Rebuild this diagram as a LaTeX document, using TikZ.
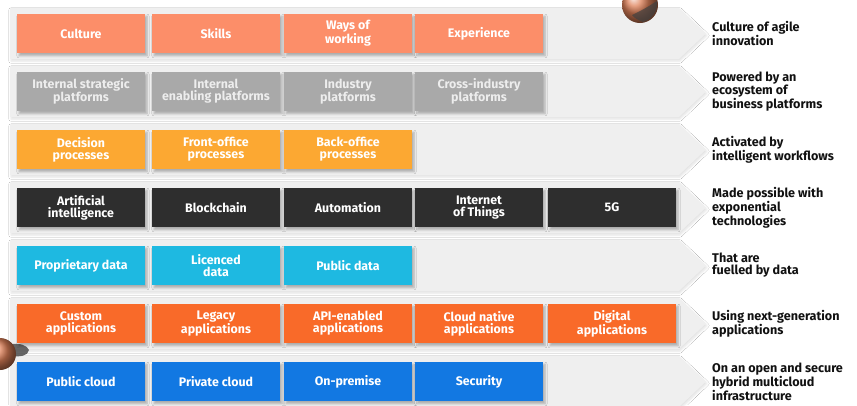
\documentclass[tikz,border=0pt]{standalone}
\usepackage{fontspec}
\setmainfont{Fira Sans}
\usetikzlibrary{shadows.blur}

\definecolor{bandgray}{HTML}{EFEFEF}
\definecolor{cSalmon}{HTML}{FC8E69}
\definecolor{cGray}{HTML}{A9A9A9}
\definecolor{cAmber}{HTML}{FCA832}
\definecolor{cCoal}{HTML}{2E2E2E}
\definecolor{cCyan}{HTML}{1EB9E1}
\definecolor{cOrange}{HTML}{F96A29}
\definecolor{cBlue}{HTML}{1278E2}
\definecolor{labeltext}{HTML}{111111}
\definecolor{copper}{HTML}{DE8058}

\tikzset{
  band/.style={fill=bandgray, draw=none,
    blur shadow={shadow xshift=1pt, shadow yshift=-2pt, shadow blur steps=6, shadow opacity=12}},
  tile/.style={draw=none, minimum width=128pt, minimum height=39.5pt, inner sep=0pt,
    text=white, align=center, font=\fontsize{12.4}{12}\selectfont\bfseries,
    blur shadow={shadow xshift=2pt, shadow yshift=-2.5pt, shadow blur steps=6, shadow opacity=28}},
  rowlabel/.style={anchor=west, align=left, inner sep=0pt, text=labeltext,
    font=\fontsize{12.6}{12}\selectfont\bfseries},
}

\begin{document}
\begin{tikzpicture}[x=1pt, y=-1pt]
\useasboundingbox (0,0) rectangle (857,405);
\fill[white] (0,0) rectangle (857,405);

% arrow-shaped background bands, one per layer
\foreach \cy in {33.5, 91.5, 149.5, 207.5, 265.5, 323.5, 381.5} {
  \path[band] (10,\cy-25.5) -- (679,\cy-25.5) -- (706,\cy) -- (679,\cy+25.5)
              -- (10,\cy+25.5) -- cycle;
}

% small copper sphere at the lower left edge with its dark stem
\fill[black!70, opacity=0.85] (10,344) .. controls (20,343) and (27,345) .. (29,350)
  .. controls (28,356) and (20,357) .. (12,356) -- cycle;
\shade[ball color=copper] (0,354) circle (16);

% row 1
\node[tile, fill=cSalmon] (r1c1) at (81,33.5) {Culture};
\node[tile, fill=cSalmon] (r1c2) at (216,33.5) {Skills};
\node[tile, fill=cSalmon] (r1c3) at (348,33.5) {Ways of\\working};
\node[tile, fill=cSalmon] (r1c4) at (479,33.5) {Experience};
\node[rowlabel] (l1) at (712,33.5) {Culture of agile\\innovation};

% row 2
\node[tile, fill=cGray, text=white!93!black] (r2c1) at (81,91.5) {Internal strategic\\platforms};
\node[tile, fill=cGray, text=white!93!black] (r2c2) at (216,91.5) {Internal\\enabling platforms};
\node[tile, fill=cGray, text=white!93!black] (r2c3) at (348,91.5) {Industry\\platforms};
\node[tile, fill=cGray, text=white!93!black] (r2c4) at (479,91.5) {Cross-industry\\platforms};
\node[rowlabel] (l2) at (712,91.5) {Powered by an\\ecosystem of\\business platforms};

% row 3
\node[tile, fill=cAmber] (r3c1) at (81,149.5) {Decision\\processes};
\node[tile, fill=cAmber] (r3c2) at (216,149.5) {Front-office\\processes};
\node[tile, fill=cAmber] (r3c3) at (348,149.5) {Back-office\\processes};
\node[rowlabel] (l3) at (712,149.5) {Activated by\\intelligent workflows};

% row 4
\node[tile, fill=cCoal] (r4c1) at (81,207.5) {Artificial\\intelligence};
\node[tile, fill=cCoal] (r4c2) at (216,207.5) {Blockchain};
\node[tile, fill=cCoal] (r4c3) at (348,207.5) {Automation};
\node[tile, fill=cCoal] (r4c4) at (479,207.5) {Internet\\of Things};
\node[tile, fill=cCoal] (r4c5) at (612,207.5) {5G};
\node[rowlabel] (l4) at (712,207.5) {Made possible with\\exponential\\technologies};

% row 5
\node[tile, fill=cCyan] (r5c1) at (81,265.5) {Proprietary data};
\node[tile, fill=cCyan] (r5c2) at (216,265.5) {Licenced\\data};
\node[tile, fill=cCyan] (r5c3) at (348,265.5) {Public data};
\node[rowlabel] (l5) at (712,265.5) {That are\\fuelled by data};

% row 6
\node[tile, fill=cOrange] (r6c1) at (81,323.5) {Custom\\applications};
\node[tile, fill=cOrange] (r6c2) at (216,323.5) {Legacy\\applications};
\node[tile, fill=cOrange] (r6c3) at (348,323.5) {API-enabled\\applications};
\node[tile, fill=cOrange] (r6c4) at (479,323.5) {Cloud native\\applications};
\node[tile, fill=cOrange] (r6c5) at (612,323.5) {Digital\\applications};
\node[rowlabel] (l6) at (712,323.5) {Using next-generation\\applications};

% row 7
\node[tile, fill=cBlue] (r7c1) at (81,381.5) {Public cloud};
\node[tile, fill=cBlue] (r7c2) at (216,381.5) {Private cloud};
\node[tile, fill=cBlue] (r7c3) at (348,381.5) {On-premise};
\node[tile, fill=cBlue] (r7c4) at (479,381.5) {Security};
\node[rowlabel] (l7) at (712,381.5) {On an open and secure\\hybrid multicloud\\infrastructure};

% copper sphere at the top edge, in front of the first band
\shade[ball color=copper] (640,5) circle (18);
\fill[black!75, opacity=0.7] (632,15) .. controls (645,9) and (652,4) .. (657,1)
  .. controls (658,12) and (651,20) .. (643,22) .. controls (638,20) and (634,18) .. (632,15) -- cycle;
\end{tikzpicture}
\end{document}
